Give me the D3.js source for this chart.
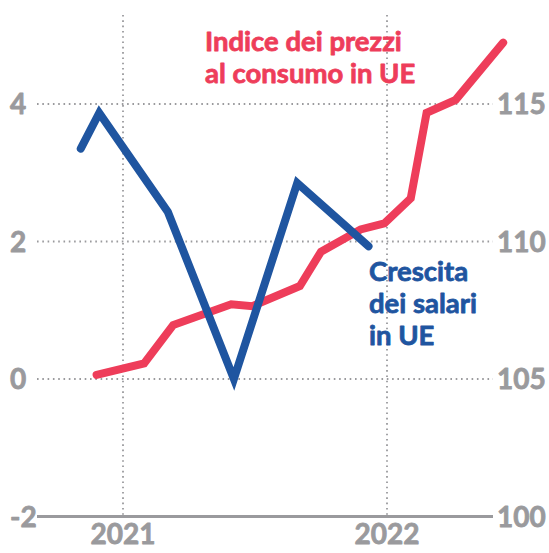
<!DOCTYPE html>
<html>
<head>
<meta charset="utf-8">
<script src="https://cdn.jsdelivr.net/npm/d3@7"></script>
<style>
  body { margin: 0; background: #fff; }
  text { font-family: Lato, "Open Sans", sans-serif; font-weight: 700; stroke-width: 0.8; stroke-linejoin: round; }
</style>
</head>
<body>
<div id="chart"></div>
<script>
// wage growth (left axis, %), x as decimal year
const wageDates = [2020.84, 2020.91, 2021.17, 2021.42, 2021.66, 2021.93]
const wageValues = [3.35, 3.87, 2.43, 0.0, 2.85, 1.93]

// consumer price index (right axis)
const priceDates = [2020.90, 2021.08, 2021.19, 2021.41, 2021.49, 2021.67, 2021.75,
    2021.90, 2021.99, 2022.09, 2022.15, 2022.26, 2022.44]
const priceValues = [105.15, 105.57, 106.96, 107.72, 107.65, 108.38, 109.63,
    110.44, 110.66, 111.57, 114.68, 115.15, 117.23]

const leftTicks = [-2, 0, 2, 4]
const rightTicks = [100, 105, 110, 115]
const yearTicks = [2021, 2022]

const priceLabel = ["Indice dei prezzi", "al consumo in UE"]
const wageLabel = ["Crescita", "dei salari", "in UE"]

const width = 549, height = 553
const margin = { top: 15, right: 56, bottom: 36.5, left: 37 }
const grey = "#9a9a9d", red = "#ee3d5a", blue = "#1f55a0"

const x = d3.scaleLinear()
    .domain([2021, 2022])
    .range([123, 387])

const yLeft = d3.scaleLinear()
    .domain([-2, 4])
    .range([height - margin.bottom, 104])

const yRight = d3.scaleLinear()
    .domain([100, 115])
    .range([height - margin.bottom, 104])

const svg = d3.select("#chart")
    .append("svg")
    .attr("width", width)
    .attr("height", height)

// dotted grid
svg.append("g")
    .attr("stroke", grey)
    .attr("stroke-width", 1.8)
    .attr("stroke-dasharray", "1.6,3.7")
    .call(g => g.selectAll("line.h")
        .data(leftTicks.filter(d => d > -2))
        .join("line")
        .attr("class", "h")
        .attr("x1", margin.left)
        .attr("x2", width - margin.right)
        .attr("y1", d => yLeft(d))
        .attr("y2", d => yLeft(d)))
    .call(g => g.selectAll("line.v")
        .data(yearTicks)
        .join("line")
        .attr("class", "v")
        .attr("x1", d => x(d))
        .attr("x2", d => x(d))
        .attr("y1", margin.top)
        .attr("y2", height - margin.bottom))

// baseline
svg.append("line")
    .attr("x1", margin.left)
    .attr("x2", width - margin.right)
    .attr("y1", yLeft(-2))
    .attr("y2", yLeft(-2))
    .attr("stroke", grey)
    .attr("stroke-width", 3)

// axis labels
svg.append("g")
    .attr("fill", grey)
    .attr("stroke", grey)
    .attr("font-size", 28)
    .call(g => g.selectAll("text.l")
        .data(leftTicks)
        .join("text")
        .attr("class", "l")
        .attr("x", 10)
        .attr("y", d => yLeft(d) + 10)
        .text(d => d))
    .call(g => g.selectAll("text.r")
        .data(rightTicks)
        .join("text")
        .attr("class", "r")
        .attr("x", 497)
        .attr("y", d => yRight(d) + 10)
        .text(d => d))
    .call(g => g.selectAll("text.x")
        .data(yearTicks)
        .join("text")
        .attr("class", "x")
        .attr("text-anchor", "middle")
        .attr("x", d => x(d))
        .attr("y", 544)
        .text(d => d))

const line = d3.line()

svg.append("path")
    .attr("fill", "none")
    .attr("stroke", red)
    .attr("stroke-width", 8)
    .attr("stroke-linecap", "round")
    .attr("d", line(priceDates.map((d, i) => [x(d), yRight(priceValues[i])])))

svg.append("path")
    .attr("fill", "none")
    .attr("stroke", blue)
    .attr("stroke-width", 8)
    .attr("stroke-linecap", "round")
    .attr("d", line(wageDates.map((d, i) => [x(d), yLeft(wageValues[i])])))

// series labels
svg.append("g")
    .attr("fill", red)
    .attr("stroke", red)
    .attr("font-size", 27.5)
    .selectAll("text")
    .data(priceLabel)
    .join("text")
    .attr("x", 205)
    .attr("y", (d, i) => 51 + i * 32)
    .text(d => d)

svg.append("g")
    .attr("fill", blue)
    .attr("stroke", blue)
    .attr("font-size", 27.5)
    .selectAll("text")
    .data(wageLabel)
    .join("text")
    .attr("x", 369)
    .attr("y", (d, i) => 281 + i * 32)
    .text(d => d)
</script>
</body>
</html>
